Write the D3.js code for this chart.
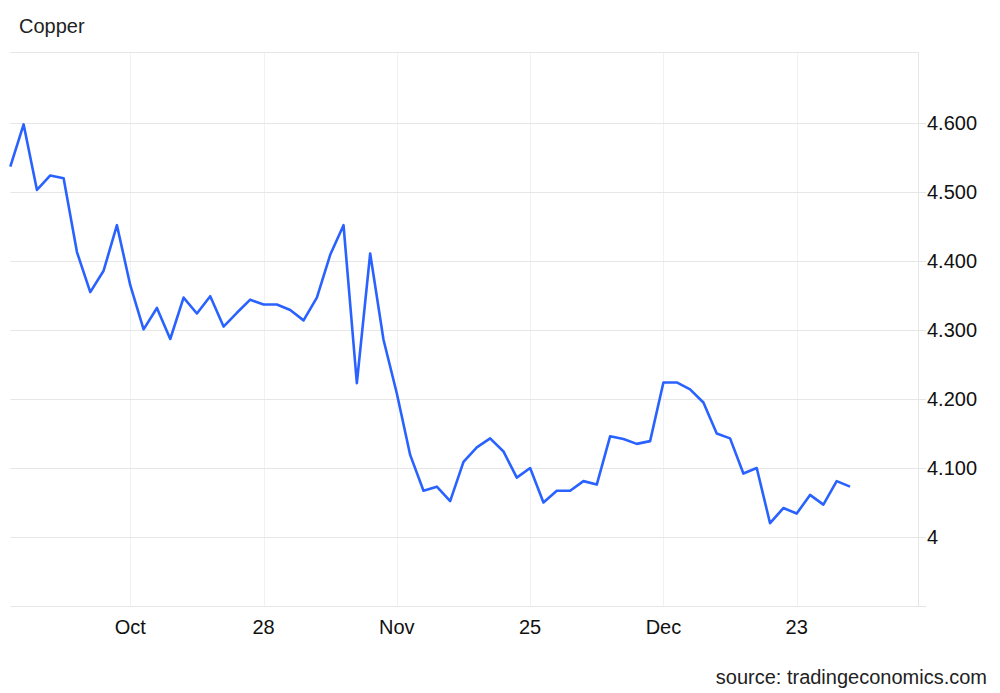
<!DOCTYPE html>
<html>
<head>
<meta charset="utf-8">
<script src="https://cdn.jsdelivr.net/npm/d3@7"></script>
<style>
  html, body { margin: 0; padding: 0; background: #fff; }
  svg { display: block; font-family: "Liberation Sans", Arial, Helvetica, sans-serif; }
</style>
</head>
<body>
<svg id="chart" width="1000" height="693"></svg>
<script>
// ---- data ----
const title = "Copper";
const source = "source: tradingeconomics.com";
const values = [
  4.537, 4.598, 4.503, 4.524, 4.520, 4.413, 4.355, 4.386, 4.452, 4.365,
  4.301, 4.332, 4.287, 4.347, 4.324, 4.349, 4.305, 4.325, 4.344, 4.337,
  4.337, 4.329, 4.314, 4.347, 4.409, 4.452, 4.223, 4.411, 4.286, 4.208,
  4.119, 4.067, 4.073, 4.052, 4.109, 4.130, 4.143, 4.124, 4.086, 4.100,
  4.050, 4.067, 4.067, 4.081, 4.076, 4.146, 4.142, 4.135, 4.139, 4.224,
  4.224, 4.214, 4.195, 4.150, 4.143, 4.092, 4.100, 4.020, 4.042, 4.034,
  4.061, 4.047, 4.081, 4.073
];
const xTickIndex = [9, 19, 29, 39, 49, 59];
const xTickLabels = ["Oct", "28", "Nov", "25", "Dec", "23"];
const yTicks = [4.0, 4.1, 4.2, 4.3, 4.4, 4.5, 4.6];
const yTickLabels = ["4", "4.100", "4.200", "4.300", "4.400", "4.500", "4.600"];
const xDomain = [0, 68.1];
const yDomain = [3.9, 4.703];

// ---- layout ----
const svg = d3.select("#chart");
const mLeft = 10.3, mRight = 918, mTop = 52, mBottom = 606;
const fontSize = 20;

const x = d3.scaleLinear().domain(xDomain).range([mLeft, mRight]);
const y = d3.scaleLinear().domain(yDomain).range([mBottom, mTop]);

// vertical grid
svg.append("g")
  .selectAll("line")
  .data(xTickIndex)
  .join("line")
  .attr("x1", d => Math.round(x(d)) + 0.5)
  .attr("x2", d => Math.round(x(d)) + 0.5)
  .attr("y1", mTop)
  .attr("y2", mBottom)
  .attr("stroke", "#eef2f7")
  .attr("stroke-width", 1);

// horizontal grid (extends a bit past right axis as tick)
svg.append("g")
  .selectAll("line")
  .data(yTicks)
  .join("line")
  .attr("x1", mLeft)
  .attr("x2", mRight + 8)
  .attr("y1", d => Math.round(y(d)) + 0.5)
  .attr("y2", d => Math.round(y(d)) + 0.5)
  .attr("stroke", "#e6e6e6")
  .attr("stroke-width", 1);

// top & bottom borders
svg.append("line")
  .attr("x1", mLeft).attr("x2", mRight)
  .attr("y1", mTop + 0.5).attr("y2", mTop + 0.5)
  .attr("stroke", "#e6e6e6");
svg.append("line")
  .attr("x1", mLeft).attr("x2", mRight + 8)
  .attr("y1", mBottom + 0.5).attr("y2", mBottom + 0.5)
  .attr("stroke", "#e6e6e6");
// right axis line
svg.append("line")
  .attr("x1", mRight + 0.5).attr("x2", mRight + 0.5)
  .attr("y1", mTop).attr("y2", mBottom)
  .attr("stroke", "#e6e6e6");

// y labels
svg.append("g")
  .selectAll("text")
  .data(yTicks)
  .join("text")
  .attr("x", 927)
  .attr("y", d => y(d))
  .attr("dy", "0.35em")
  .attr("font-size", fontSize)
  .attr("fill", "#111")
  .text((d, i) => yTickLabels[i]);

// x labels
svg.append("g")
  .selectAll("text")
  .data(xTickIndex)
  .join("text")
  .attr("x", d => x(d))
  .attr("y", 634)
  .attr("text-anchor", "middle")
  .attr("font-size", fontSize)
  .attr("fill", "#111")
  .text((d, i) => xTickLabels[i]);

// line
const line = d3.line()
  .x((d, i) => x(i))
  .y(d => y(d));
svg.append("path")
  .datum(values)
  .attr("d", line)
  .attr("fill", "none")
  .attr("stroke", "#2962ff")
  .attr("stroke-width", 2.6)
  .attr("stroke-linejoin", "round");

// title
svg.append("text")
  .attr("x", 19)
  .attr("y", 33)
  .attr("font-size", fontSize)
  .attr("fill", "#222")
  .text(title);

// source
svg.append("text")
  .attr("x", 987)
  .attr("y", 684)
  .attr("text-anchor", "end")
  .attr("font-size", fontSize)
  .attr("fill", "#222")
  .text(source);
</script>
</body>
</html>
